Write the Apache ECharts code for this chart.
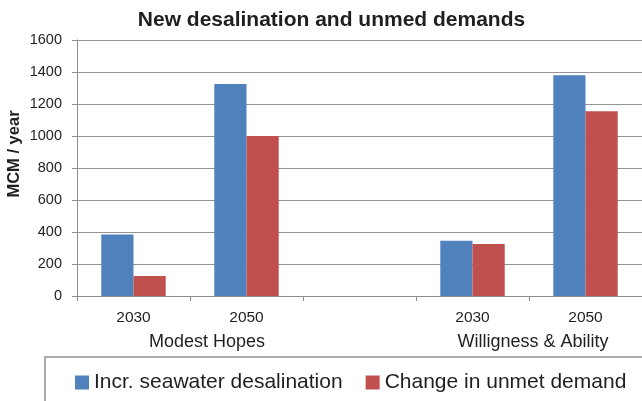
<!DOCTYPE html>
<html>
<head>
<meta charset="utf-8">
<script src="https://cdn.jsdelivr.net/npm/echarts@6/dist/echarts.min.js"></script>
<style>
  html, body { margin: 0; padding: 0; background: #fff; }
  #chart { width: 642px; height: 401px; }
</style>
</head>
<body>
<div id="chart"></div>
<script>
// Years per scenario; the empty slot separates the two scenarios
const categories = ['2030', '2050', '', '2030', '2050'];
const groupLabels = ['Modest Hopes', 'Willigness & Ability'];
const seriesNames = ['Incr. seawater desalination', 'Change in unmet demand'];
const desalination = [385, 1325, null, 345, 1380];
const unmetDemand = [125, 1000, null, 325, 1155];
const yTicks = { min: 0, max: 1600, interval: 200 };

const FONT = '"Liberation Sans", Arial, Helvetica, sans-serif';
const TEXT = '#1f1f1f';

const chart = echarts.init(document.getElementById('chart'), null, { renderer: 'canvas' });

chart.setOption({
  animation: false,
  backgroundColor: '#ffffff',
  color: ['#4F81BD', '#C0504D'],
  grid: { left: 77, right: -5, top: 40, bottom: 105, containLabel: false },
  xAxis: {
    type: 'category',
    data: categories,
    boundaryGap: true,
    axisLine: { show: true, lineStyle: { color: '#8c8c8c', width: 1 } },
    axisTick: { show: true, length: 5, interval: 0, lineStyle: { color: '#8c8c8c' } },
    axisLabel: { interval: 0, margin: 14, fontFamily: FONT, fontSize: 15.5, color: TEXT },
    splitLine: { show: false }
  },
  yAxis: {
    type: 'value',
    min: yTicks.min,
    max: yTicks.max,
    interval: yTicks.interval,
    axisLine: { show: true, lineStyle: { color: '#8c8c8c', width: 1 } },
    axisTick: { show: true, length: 5, lineStyle: { color: '#8c8c8c' } },
    axisLabel: {
      margin: 15, fontFamily: FONT, fontSize: 14.5, color: TEXT,
      formatter: function (v) { return String(v); }
    },
    splitLine: { show: true, lineStyle: { color: '#949494', width: 1.2 } }
  },
  legend: {
    left: 45,
    top: 357,
    width: 600,
    padding: [15, 30, 40, 30],
    borderColor: '#8f8f8f',
    borderWidth: 1.5,
    itemWidth: 14,
    itemHeight: 14,
    itemGap: 23,
    icon: 'rect',
    data: seriesNames,
    textStyle: { fontFamily: FONT, fontSize: 21, color: TEXT }
  },
  series: [
    { name: seriesNames[0], type: 'bar', data: desalination, barWidth: '28.5%', barGap: '0%' },
    { name: seriesNames[1], type: 'bar', data: unmetDemand, barWidth: '28.5%', barGap: '0%' }
  ],
  graphic: [
    {
      type: 'text',
      style: {
        text: 'New desalination and unmed demands',
        x: 331.5, y: 20,
        align: 'center', verticalAlign: 'middle',
        font: 'bold 21px ' + FONT,
        fill: TEXT
      }
    },
    {
      type: 'text',
      x: 14, y: 154,
      rotation: Math.PI / 2,
      style: {
        text: 'MCM / year',
        x: 0, y: 0,
        align: 'center', verticalAlign: 'middle',
        font: 'bold 16.5px ' + FONT,
        fill: TEXT
      }
    },
    {
      type: 'text',
      style: {
        text: groupLabels[0],
        x: 207, y: 342,
        align: 'center', verticalAlign: 'middle',
        font: '18px ' + FONT,
        fill: TEXT
      }
    },
    {
      type: 'text',
      style: {
        text: groupLabels[1],
        x: 533, y: 342,
        align: 'center', verticalAlign: 'middle',
        font: '18px ' + FONT,
        fill: TEXT
      }
    }
  ]
});
</script>
</body>
</html>
